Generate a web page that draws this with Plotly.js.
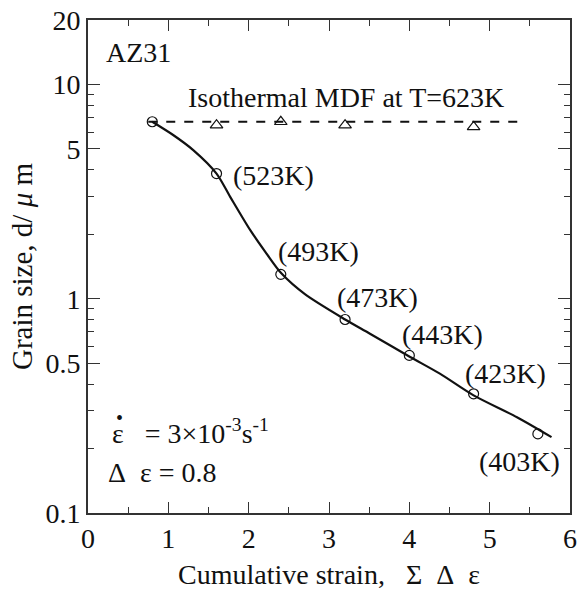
<!DOCTYPE html>
<html>
<head>
<meta charset="utf-8">
<script src="https://cdn.plot.ly/plotly-3.0.1.min.js"></script>
</head>
<body style="margin:0">
<div id="chart" style="width:584px;height:590px;"></div>
<script>
// Data
const stepX = [0.8, 1.6, 2.4, 3.2, 4.0, 4.8, 5.6];
const stepY = [6.7, 3.84, 1.30, 0.80, 0.544, 0.36, 0.234];
const stepTemps = ["", "(523K)", "(493K)", "(473K)", "(443K)", "(423K)", "(403K)"];

const isoX = [1.6, 2.4, 3.2, 4.8];
const isoY = [6.46, 6.7, 6.46, 6.34];

const isoLineX = [0.75, 5.45];
const isoLineY = [6.7, 6.7];

const curveX = [0.8, 1.06, 1.31, 1.6, 1.77, 2.02, 2.22, 2.41, 2.7, 3.2, 3.51, 4.01, 4.38, 4.8, 5.34, 5.77];
const curveY = [6.7, 5.81, 4.94, 3.84, 2.99, 2.09, 1.63, 1.31, 1.05, 0.80, 0.687, 0.535, 0.447, 0.354, 0.280, 0.226];

const xTicks = [0, 1, 2, 3, 4, 5, 6];
const yTicks = [0.1, 0.5, 1, 5, 10, 20];
const yTickText = ["0.1", "0.5", "1", "5", "10", "20"];
const yMinor = [0.2, 0.3, 0.4, 0.6, 0.7, 0.8, 0.9, 2, 3, 4, 6, 7, 8, 9];
const xMinor = [0.5, 1.5, 2.5, 3.5, 4.5, 5.5];

const FONT = "Liberation Serif";
const FS = 28;

const traces = [
  {x: isoLineX, y: isoLineY, mode: "lines", line: {color: "#111", width: 2, dash: "dash"}, hoverinfo: "skip"},
  {x: curveX, y: curveY, mode: "lines", line: {color: "#111", width: 2.2, shape: "spline", smoothing: 0.8}, hoverinfo: "skip"},
  {x: isoX, y: isoY, mode: "markers", marker: {symbol: "triangle-up-open", size: 11, color: "#111", line: {width: 1.2}}},
  {x: stepX, y: stepY, mode: "markers", marker: {symbol: "circle-open", size: 10, color: "#111", line: {width: 1.2}}}
];

function px2x(px){ return (px - 88) / 482; }
function px2y(py){ return (513 - py) / 493; }

const ann = [];
function addText(text, px, py, size){
  ann.push({text: text, xref: "paper", yref: "paper", x: px2x(px), y: px2y(py),
    xanchor: "left", yanchor: "middle", showarrow: false,
    font: {family: FONT, size: size || FS, color: "#111"}});
}
addText("AZ31", 104, 53);
addText("Isothermal MDF at T=623K", 186, 98);
const tempPos = [null, [231, 175], [276, 251], [335, 297], [400, 334], [463, 373], [477, 461]];
for (let i = 1; i < stepTemps.length; i++) addText(stepTemps[i], tempPos[i][0], tempPos[i][1]);
addText("ε\u00a0\u00a0\u00a0= 3×10<sup>-3</sup>s<sup>-1</sup>", 110, 432);
addText("•", 114, 418, 20);
addText("Δ\u00a0\u00a0ε = 0.8", 106, 472);

const layout = {
  width: 584, height: 590,
  margin: {l: 88, r: 14, t: 20, b: 77},
  paper_bgcolor: "#fff", plot_bgcolor: "#fff",
  showlegend: false,
  xaxis: {
    range: [0, 6], tickvals: xTicks, ticks: "inside", ticklen: 11, tickwidth: 1.3, tickcolor: "#333",
    showline: true, linecolor: "#333", linewidth: 1.6, mirror: "ticks", showgrid: false, zeroline: false,
    tickfont: {family: FONT, size: FS, color: "#111"},
    minor: {tickvals: xMinor, ticks: "inside", ticklen: 6, tickwidth: 1.2, tickcolor: "#333", showgrid: false},
    title: {text: "Cumulative strain,\u00a0\u00a0\u00a0Σ\u00a0\u00a0Δ\u00a0\u00a0ε", font: {family: FONT, size: FS, color: "#111"}, standoff: 20}
  },
  yaxis: {
    type: "log", range: [-1, Math.log10(20)], tickvals: yTicks, ticktext: yTickText,
    ticks: "inside", ticklen: 12, tickwidth: 1.3, tickcolor: "#333",
    showline: true, linecolor: "#333", linewidth: 1.6, mirror: "ticks", showgrid: false, zeroline: false,
    tickfont: {family: FONT, size: FS, color: "#111"},
    minor: {tickvals: yMinor, ticks: "inside", ticklen: 6, tickwidth: 1.2, tickcolor: "#333", showgrid: false},
    title: {text: "Grain size, d/\u00a0<i>μ</i>\u00a0m", font: {family: FONT, size: 29, color: "#111"}, standoff: 4}
  },
  annotations: ann
};

Plotly.newPlot("chart", traces, layout, {displayModeBar: false}).then(function(gd){
  gd.querySelectorAll("text").forEach(function(t){
    t.setAttribute("font-family", FONT);
    t.style.setProperty("font-family", FONT, "important");
  });
});
</script>
</body>
</html>
